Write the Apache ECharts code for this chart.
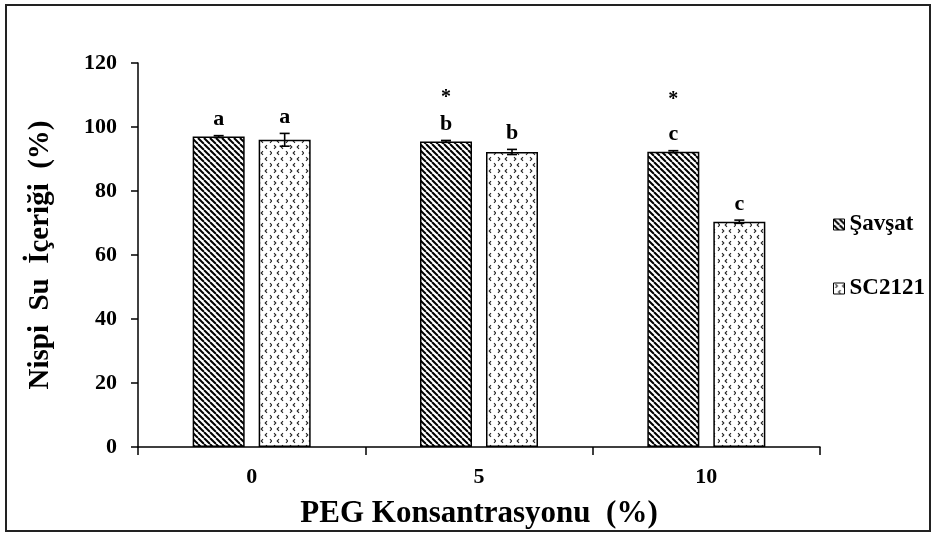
<!DOCTYPE html>
<html>
<head>
<meta charset="utf-8">
<script src="https://cdn.jsdelivr.net/npm/echarts@6/dist/echarts.min.js"></script>
<style>html,body{margin:0;padding:0;background:#fff}#c{width:933px;height:536px}</style>
</head>
<body>
<div id="c"></div>
<script>
var categories = ['0', '5', '10'];
var seriesNames = ['Şavşat', 'SC2121'];
var savsatValues = [97.0, 95.5, 92.3];
var sc2121Values = [96.0, 92.2, 70.4];
var savsatErrors = [0.3, 0.3, 0.3];
var sc2121Errors = [2.0, 0.8, 0.5];
var savsatLetters = ['a', 'b', 'c'];
var sc2121Letters = ['a', 'b', 'c'];
var savsatStars = ['', '*', '*'];
var savsatStarLevels = [null, 109.2, 108.6];
var yTicks = { min: 0, max: 120, interval: 20 };

var FONT = 'Liberation Serif';
var BAR_W = 52, GAP = 14;

function stripePattern() {
  var s = 6, c = document.createElement('canvas');
  c.width = s; c.height = s;
  var g = c.getContext('2d');
  g.fillStyle = '#fff'; g.fillRect(0, 0, s, s);
  g.strokeStyle = '#000'; g.lineWidth = 2;
  for (var k = -1; k <= 1; k++) {
    g.beginPath(); g.moveTo(k * s, 0); g.lineTo(k * s + s, s); g.stroke();
  }
  return c;
}
function dotPattern() {
  var w = 16, h = 12, c = document.createElement('canvas');
  c.width = w; c.height = h;
  var g = c.getContext('2d');
  g.fillStyle = '#fff'; g.fillRect(0, 0, w, h);
  g.strokeStyle = '#222'; g.lineWidth = 1.1;
  function chev(x, y, d) {
    g.beginPath(); g.moveTo(x, y - 1.8); g.lineTo(x + 1.8 * d, y); g.lineTo(x, y + 1.8); g.stroke();
  }
  chev(2, 3, 1); chev(11, 3, -1);
  chev(7, 9, -1); chev(14, 9, 1);
  return c;
}

var stripe = { image: stripePattern(), repeat: 'repeat' };
var dots = { image: dotPattern(), repeat: 'repeat' };

function makeErr(values, errors, letters, stars, starLevels, offset) {
  return {
    type: 'custom',
    silent: true,
    z: 5,
    data: values.map(function (v, i) { return [i, v, errors[i]]; }),
    renderItem: function (params, api) {
      var i = api.value(0), v = api.value(1), e = api.value(2);
      var top = api.coord([i, v + e]);
      var bot = api.coord([i, v - e]);
      var x = top[0] + offset;
      var ch = [
        { type: 'line', shape: { x1: x, y1: top[1], x2: x, y2: bot[1] }, style: { stroke: '#000', lineWidth: 1.6 } },
        { type: 'line', shape: { x1: x - 5, y1: top[1], x2: x + 5, y2: top[1] }, style: { stroke: '#000', lineWidth: 1.6 } },
        { type: 'line', shape: { x1: x - 5, y1: bot[1], x2: x + 5, y2: bot[1] }, style: { stroke: '#000', lineWidth: 1.6 } },
        { type: 'text', style: { text: letters[params.dataIndex], x: x, y: top[1] - 16, align: 'center', verticalAlign: 'middle', font: 'bold 22px "' + FONT + '"', fill: '#000' } }
      ];
      if (stars && stars[params.dataIndex]) {
        var sp = api.coord([i, starLevels[params.dataIndex]]);
        ch.push({ type: 'text', style: { text: stars[params.dataIndex], x: x, y: sp[1], align: 'center', verticalAlign: 'middle', font: 'bold 20px "' + FONT + '"', fill: '#000' } });
      }
      return { type: 'group', children: ch };
    }
  };
}

var chart = echarts.init(document.getElementById('c'), null, { renderer: 'canvas' });
chart.setOption({
  animation: false,
  backgroundColor: '#fff',
  textStyle: { fontFamily: FONT, color: '#000' },
  graphic: [{
    type: 'rect', shape: { x: 6, y: 5, width: 924, height: 526 },
    style: { fill: 'none', stroke: '#222', lineWidth: 2 }, silent: true, z: 100
  }],
  grid: { left: 138, right: 113, top: 63, bottom: 89, containLabel: false },
  legend: {
    orient: 'vertical', left: 828, top: 208,
    itemWidth: 11, itemHeight: 11, itemGap: 41,
    icon: 'rect',
    textStyle: { fontFamily: FONT, fontWeight: 'bold', fontSize: 23, color: '#000', padding: [0, 0, 0, 0] },
    data: [
      { name: seriesNames[0], itemStyle: { color: stripe, borderColor: '#000', borderWidth: 1 } },
      { name: seriesNames[1], itemStyle: { color: dots, borderColor: '#000', borderWidth: 1 } }
    ]
  },
  xAxis: {
    type: 'category', data: categories, boundaryGap: true,
    name: 'PEG Konsantrasyonu  (%)', nameLocation: 'middle', nameGap: 51,
    nameTextStyle: { fontFamily: FONT, fontWeight: 'bold', fontSize: 31, color: '#000' },
    axisLine: { lineStyle: { color: '#000', width: 1.5 } },
    axisTick: { show: true, length: 8, interval: 0, alignWithLabel: false, lineStyle: { color: '#000', width: 1.5 } },
    axisLabel: { fontFamily: FONT, fontWeight: 'bold', fontSize: 22, color: '#000', margin: 19 }
  },
  yAxis: {
    type: 'value', min: yTicks.min, max: yTicks.max, interval: yTicks.interval,
    name: 'Nispi  Su  İçeriği  (%)', nameLocation: 'middle', nameGap: 83, nameRotate: 90,
    nameTextStyle: { fontFamily: FONT, fontWeight: 'bold', fontSize: 29, color: '#000' },
    axisLine: { show: true, lineStyle: { color: '#000', width: 1.5 } },
    axisTick: { show: true, length: 7, lineStyle: { color: '#000', width: 1.5 } },
    splitLine: { show: false },
    axisLabel: { fontFamily: FONT, fontWeight: 'bold', fontSize: 22, color: '#000', margin: 21 }
  },
  series: [
    { name: seriesNames[0], type: 'bar', data: savsatValues, barWidth: BAR_W, barGap: (GAP / BAR_W * 100) + '%',
      itemStyle: { color: stripe, borderColor: '#000', borderWidth: 1.5 } },
    { name: seriesNames[1], type: 'bar', data: sc2121Values, barWidth: BAR_W,
      itemStyle: { color: dots, borderColor: '#000', borderWidth: 1.5 } },
    makeErr(savsatValues, savsatErrors, savsatLetters, savsatStars, savsatStarLevels, -(BAR_W + GAP) / 2),
    makeErr(sc2121Values, sc2121Errors, sc2121Letters, null, null, (BAR_W + GAP) / 2)
  ]
});
</script>
</body>
</html>
